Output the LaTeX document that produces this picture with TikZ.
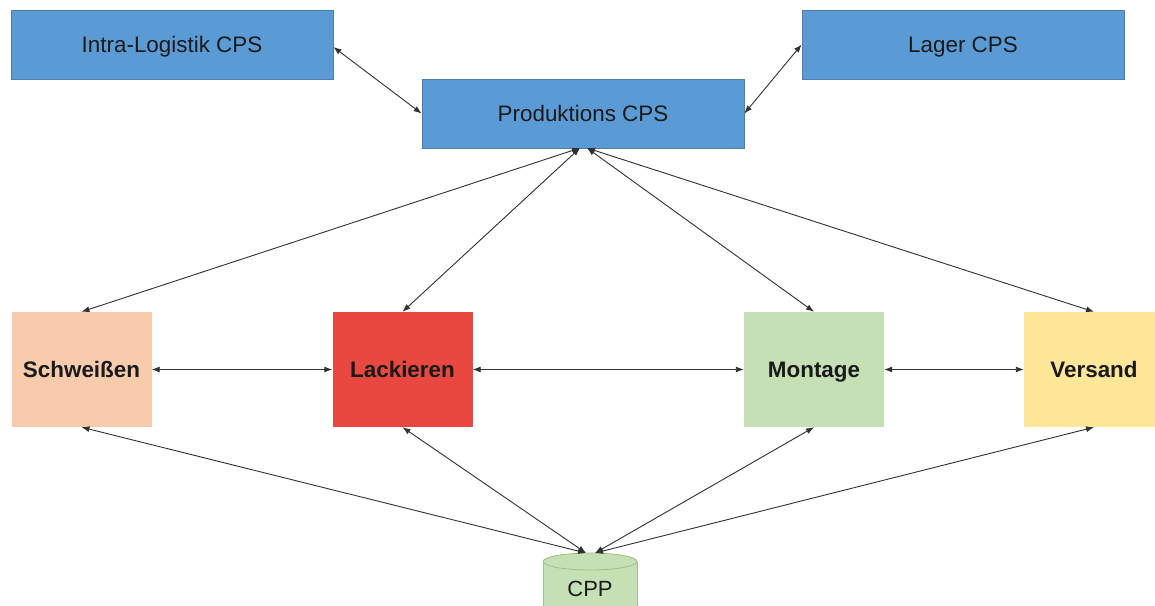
\documentclass[tikz,border=0pt]{standalone}
\usepackage{fontspec}
\setmainfont{Liberation Sans}
\usetikzlibrary{arrows.meta}
\definecolor{cpsblue}{HTML}{5B9BD5}
\definecolor{cpsedge}{HTML}{4A7FB0}
\definecolor{weld}{HTML}{F8CBAD}
\definecolor{paint}{HTML}{E8483F}
\definecolor{assembly}{HTML}{C5E0B4}
\definecolor{shipping}{HTML}{FFE699}
\definecolor{cppedge}{HTML}{9CC283}
\definecolor{ink}{HTML}{1A1A1A}
\tikzset{
  cpsbox/.style={draw=cpsedge, line width=0.8pt, fill=cpsblue, minimum width=322pt,
    minimum height=69pt, inner sep=0pt, text=ink, font=\fontsize{22.4}{27}\selectfont,
    text height=16pt, text depth=0pt},
  procbox/.style={minimum width=140pt, minimum height=115pt, inner sep=0pt, text=ink,
    font=\fontsize{22.4}{27}\selectfont\bfseries, text height=16pt, text depth=0pt},
  link/.style={draw=ink!90, line width=0.9pt,
    {Latex[length=8pt,width=6pt]}-{Latex[length=8pt,width=6pt]}}
}
\begin{document}
\begin{tikzpicture}[x=1pt,y=-1pt]
\useasboundingbox (0,0) rectangle (1155,605);
\begin{scope}
\clip (0,0) rectangle (1155,605);
% CPS layer
\node[cpsbox] (intra) at (172,44.5) {Intra-Logistik CPS};
\node[cpsbox] (lager) at (963,44.5) {Lager CPS};
\node[cpsbox] (prod) at (583,113.5) {Produktions CPS};
% process stations
\node[procbox, fill=weld] (weld) at (81.5,369.5) {Schweißen};
\node[procbox, fill=paint] (paint) at (402.5,369.5) {Lackieren};
\node[procbox, fill=assembly] (assy) at (814,369.5) {Montage};
\node[procbox, fill=shipping] (ship) at (1094,369.5) {Versand};
% CPP data store (cylinder, running past the lower edge)
\fill[assembly] (543,561.5) rectangle (637,615);
\draw[cppedge, line width=0.8pt] (543,561.5) -- (543,615) (637,561.5) -- (637,615);
\filldraw[fill=assembly, draw=cppedge, line width=0.8pt]
  (590,561.5) ellipse[x radius=47, y radius=8.5];
\node[text=ink, font=\fontsize{22}{26}\selectfont, text height=16pt, text depth=0pt]
  (cpp) at (590,588) {CPP};
\coordinate (cppL) at (586,553);
\coordinate (cppR) at (595,553);
\coordinate (prodL) at (580,148);
\coordinate (prodR) at (587,148);
% connections
\draw[link] ([yshift=-2.5pt]intra.east) -- (prod.west);
\draw[link] (lager.west) -- (prod.east);
\draw[link] (weld.north) -- (prodL);
\draw[link] (paint.north) -- (prodL);
\draw[link] (assy.north) -- (prodR);
\draw[link] (ship.north) -- (prodR);
\draw[link] (weld.east) -- (paint.west);
\draw[link] (paint.east) -- (assy.west);
\draw[link] (assy.east) -- (ship.west);
\draw[link] (weld.south) -- (cppL);
\draw[link] (paint.south) -- (cppL);
\draw[link] (assy.south) -- (cppR);
\draw[link] (ship.south) -- (cppR);
\end{scope}
\end{tikzpicture}
\end{document}
